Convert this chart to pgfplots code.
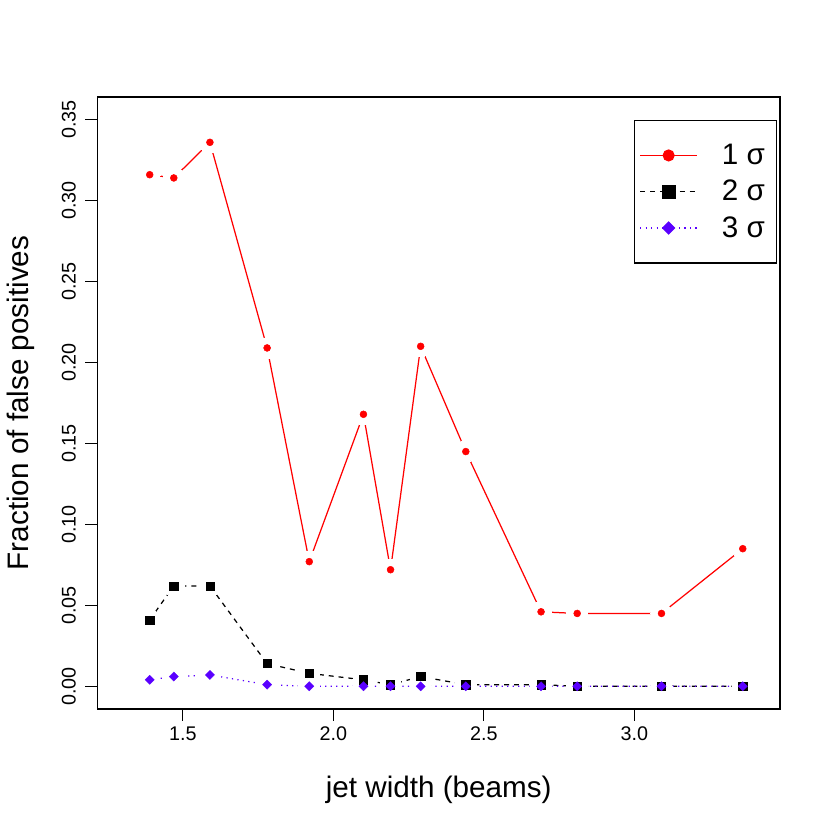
\documentclass[border=0pt]{standalone}
\usepackage{fontspec}
\setmainfont{Liberation Sans}
\usepackage{pgfplots}
\pgfplotsset{compat=1.18}

% reference is 830 px square; 1 px = 504/830 pt
\definecolor{sigred}{RGB}{255,0,0}
\definecolor{sigblue}{RGB}{90,0,255}

\pgfplotstableread{
x     s1     s2     s3
1.39  0.316  0.041  0.004
1.47  0.314  0.062  0.006
1.59  0.336  0.062  0.007
1.78  0.209  0.014  0.001
1.92  0.077  0.008  0.000
2.10  0.168  0.004  0.000
2.19  0.072  0.001  0.000
2.29  0.210  0.006  0.000
2.44  0.145  0.001  0.000
2.69  0.046  0.001  0.000
2.81  0.045  0.000  0.000
3.09  0.045  0.000  0.000
3.36  0.085  0.000  0.000
}\fp

\newcommand{\sig}[1]{\hspace{6.7pt}\makebox[22.2pt][l]{#1 σ}}

\begin{document}
\begin{tikzpicture}
\path[use as bounding box] (0,0) rectangle (504pt,504pt);
\begin{axis}[at={(59.1pt,73.5pt)},anchor=south west,
  scale only axis,width=414.6pt,height=371.6pt,
  xmin=1.216,xmax=3.484,ymin=-0.014,ymax=0.364,
  axis line style={line width=0.75pt},
  xtick={1.5,2.0,2.5,3.0},
  ytick={0,0.05,...,0.35},
  xticklabel style={/pgf/number format/fixed,/pgf/number format/fixed zerofill,
    /pgf/number format/precision=1,anchor=base},
  yticklabel style={/pgf/number format/fixed,/pgf/number format/fixed zerofill,
    /pgf/number format/precision=2,rotate=90,anchor=base},
  /pgf/number format/assume math mode=true,
  tick align=outside,tick pos=left,
  major tick length=7.2pt,
  tick style={line width=0.75pt,black},
  tick label style={font=\fontsize{12}{14.4}\selectfont},
  xticklabel shift=12pt,
  yticklabel shift=6pt,
  xlabel={jet width (beams)},
  ylabel={Fraction of false positives},
  label style={font=\fontsize{18}{21.6}\selectfont},
  xlabel style={at={([yshift=-53.5pt]axis description cs:0.5,0)},anchor=base},
  ylabel style={at={([xshift=-42pt]axis description cs:0,0.5)},rotate=0,anchor=base},
  legend image code/.code={\draw[mark repeat=2,mark phase=2]
    plot coordinates {(0pt,0pt)(17.3pt,0pt)(34.6pt,0pt)};},
  legend style={at={(0.786,0.9624)},anchor=north west,
    draw=black,line width=0.75pt,fill=white,
    font=\fontsize{18}{21.6}\selectfont,
    inner xsep=3pt,inner ysep=12.2pt,row sep=4pt,
    nodes={inner xsep=8pt,inner ysep=2pt}},
  legend cell align=left]

% connecting lines
\addplot[sigred,line width=0.75pt,forget plot] table[x=x,y=s1] {\fp};
\addplot[black,line width=0.75pt,dash pattern=on 3pt off 3pt,forget plot] table[x=x,y=s2] {\fp};
\addplot[sigblue,line width=0.75pt,dash pattern=on 0.75pt off 2.6pt,forget plot] table[x=x,y=s3] {\fp};

% gaps round the points, as R's type="b"
\addplot[white,only marks,mark=*,mark size=6.4pt,mark options={draw=white,fill=white,line width=0pt},forget plot] table[x=x,y=s1] {\fp};
\addplot[white,only marks,mark=*,mark size=6.4pt,mark options={draw=white,fill=white,line width=0pt},forget plot] table[x=x,y=s2] {\fp};
\addplot[white,only marks,mark=*,mark size=6.4pt,mark options={draw=white,fill=white,line width=0pt},forget plot] table[x=x,y=s3] {\fp};

% points
\addplot[sigred,only marks,mark=*,mark size=2.1pt,mark options={draw=sigred,fill=sigred,line width=0.3pt},forget plot] table[x=x,y=s1] {\fp};
\addplot[black,only marks,mark=square*,mark size=2.5pt,mark options={draw=black,fill=black,line width=0.3pt},forget plot] table[x=x,y=s2] {\fp};
\addplot[sigblue,only marks,mark=diamond*,mark size=2.8pt,mark options={draw=sigblue,fill=sigblue,line width=0.2pt,xscale=1.333},forget plot] table[x=x,y=s3] {\fp};

\addlegendimage{sigred,line width=0.75pt,mark=*,mark size=3.3pt,mark options={solid,fill=sigred}}
\addlegendentry{\sig{1}}
\addlegendimage{black,line width=0.75pt,dash pattern=on 3pt off 3pt,mark=square*,mark size=3.8pt,mark options={solid,fill=black}}
\addlegendentry{\sig{2}}
\addlegendimage{sigblue,line width=0.75pt,dash pattern=on 0.75pt off 2.6pt,mark=diamond*,mark size=3.6pt,mark options={solid,fill=sigblue,xscale=1.333}}
\addlegendentry{\sig{3}}
\end{axis}
\end{tikzpicture}
\end{document}
